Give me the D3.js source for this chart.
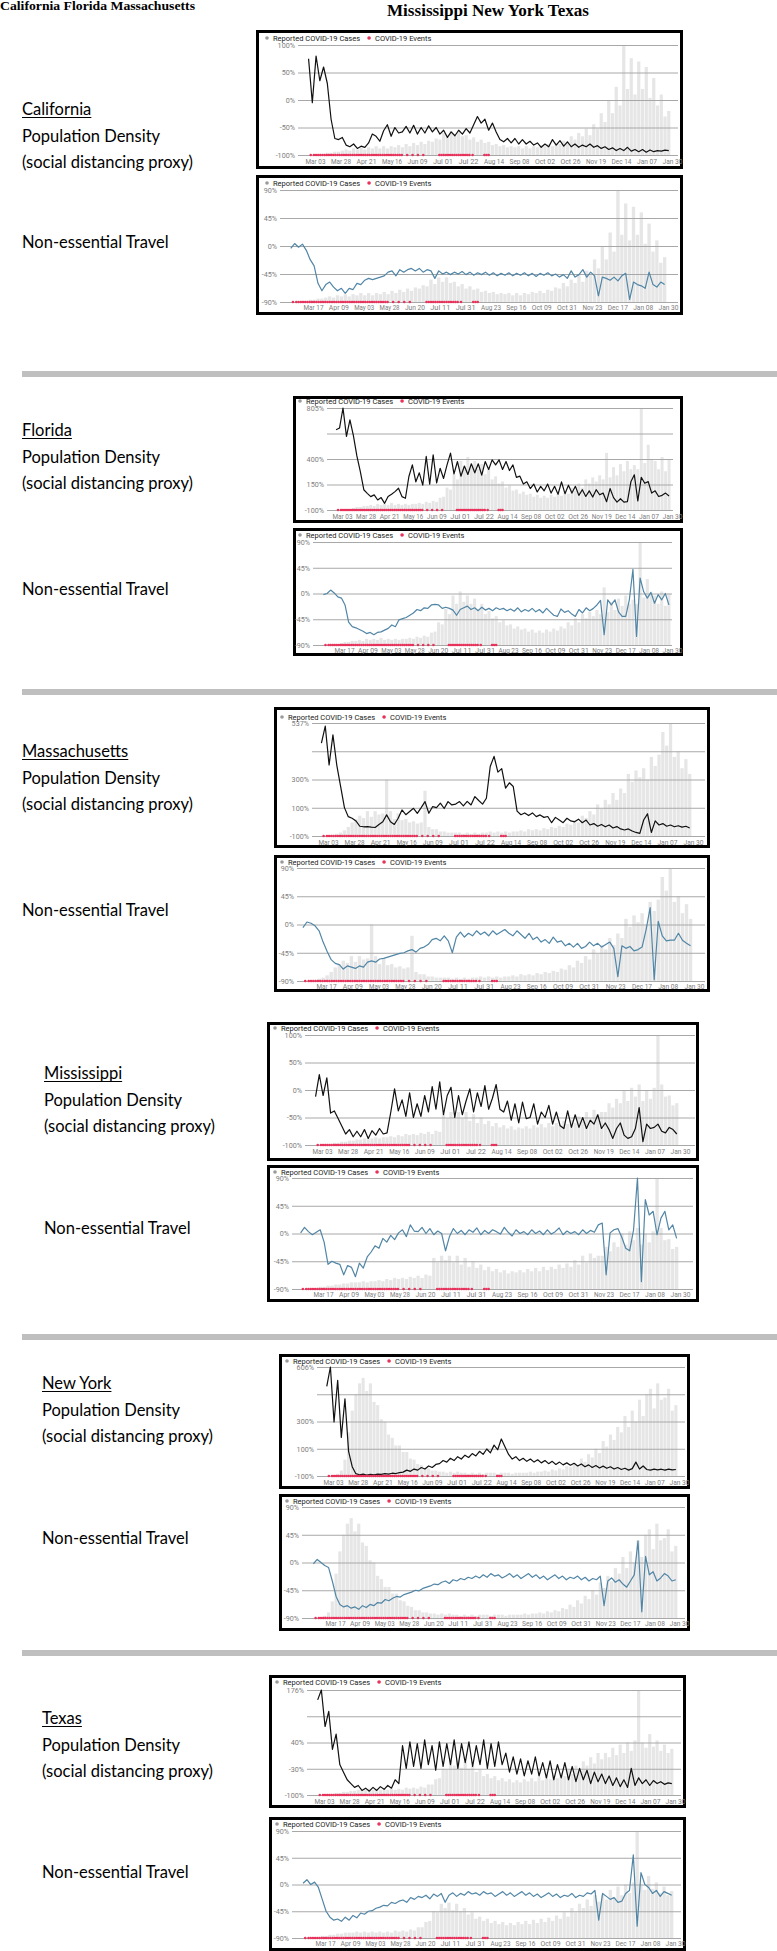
<!DOCTYPE html>
<html><head><meta charset="utf-8">
<script src="https://cdn.jsdelivr.net/npm/d3@7"></script>
<style>html,body{margin:0;padding:0;background:#fff;}svg{display:block;}</style>
</head><body>
<svg id="c" width="777" height="1951"></svg>
<script>
// ================= DATA =================
// Series are sampled every half-week (3.5 days) starting Feb 26, 2020 (day 0).
const STEP_DAYS = 3.5;
const popTickLabels = ["Mar 03","Mar 28","Apr 21","May 16","Jun 09","Jul 01","Jul 22","Aug 14","Sep 08","Oct 02","Oct 26","Nov 19","Dec 14","Jan 07","Jan 30"];
const travelTickLabels = ["Mar 17","Apr 09","May 03","May 28","Jun 20","Jul 11","Jul 31","Aug 23","Sep 16","Oct 09","Oct 31","Nov 23","Dec 17","Jan 08","Jan 30"];
const popTickDayRange = [6, 339];      // Mar 03 .. Jan 30 (days since Feb 26)
const travelTickDayRange = [20, 339];  // Mar 17 .. Jan 30
const legendLabels = ["Reported COVID-19 Cases", "COVID-19 Events"];
// COVID-19 event days (days since Feb 26)
const eventDays = [2,5,7,9,11,13,15,17,19,21,23,25,27,29,31,33,35,37,39,41,43,45,47,49,51,53,55,57,59,61,63,65,67,69,71,73,75,77,79,81,83,85,87,92,97,102,107,122,124,126,128,130,132,134,136,138,140,142,144,146,148,150,153,164,166,168];

const states = ["California","Florida","Massachusetts","Mississippi","New York","Texas"];

// ---- California ----
const caPop = [75,-5,80,35,60,30,-35,-70,-72,-68, -82,-85,-80,-88,-84,-86,-78,-62,-66,-75, -56,-45,-66,-50,-60,-58,-48,-60,-46,-62, -50,-60,-47,-58,-50,-62,-55,-68,-58,-65, -55,-62,-52,-60,-45,-30,-42,-35,-55,-42, -58,-72,-76,-70,-78,-70,-80,-72,-80,-75, -82,-78,-86,-80,-85,-72,-82,-74,-84,-76, -85,-80,-86,-82,-85,-80,-86,-83,-88,-85, -90,-87,-92,-88,-92,-86,-93,-90,-94,-90, -95,-91,-94,-92,-93,-91,-92];
const caTravel = [-4,4,-2,3,-7,-22,-32,-60,-72,-62, -58,-66,-72,-68,-76,-68,-70,-60,-62,-55, -52,-54,-52,-50,-48,-42,-40,-48,-38,-42, -38,-36,-40,-36,-42,-38,-40,-52,-40,-45, -42,-46,-42,-45,-41,-46,-42,-47,-43,-46, -42,-47,-43,-48,-44,-47,-43,-48,-44,-47, -43,-48,-44,-49,-44,-47,-43,-48,-45,-50, -46,-52,-40,-50,-46,-38,-50,-42,-48,-80, -50,-52,-55,-50,-56,-48,-44,-86,-58,-62, -64,-68,-42,-62,-66,-58,-62];
const caCases = [0,0,0,1,1,2,2,3,3,4, 5,4,6,5,7,5,7,6,8,6, 8,6,8,7,9,7,10,8,11,9, 12,10,13,12,15,14,20,16,22,18, 22,17,18,14,16,12,14,11,12,9, 10,8,9,7,8,7,8,6,8,6, 8,7,9,8,10,8,11,10,13,12, 17,14,20,17,24,18,28,24,38,30, 50,38,62,45,100,60,88,55,85,60, 80,52,70,45,55,35,40];

// ---- Florida ----
const flPop = [612,627,805,553,700,560,380,241,80,48, 19,34,-11,10,-41,20,40,63,93,19, 4,197,300,150,230,120,375,130,390,140, 270,180,300,405,220,330,200,290,215,310, 230,310,210,330,260,345,300,345,260,330, 250,300,190,200,130,150,90,130,60,110, 70,130,50,110,40,150,45,120,50,110, 30,80,20,70,15,80,35,50,-26,90, 10,-30,0,-30,-26,150,212,-20,190,137, 152,50,70,20,30,50,25];
const flTravel = [-2,0,6,1,-6,-8,-20,-50,-58,-60, -63,-66,-70,-68,-72,-68,-67,-64,-61,-55, -58,-46,-44,-42,-38,-34,-28,-30,-25,-26, -20,-19,-20,-26,-24,-26,-29,-38,-28,-25, -22,-28,-25,-30,-24,-29,-26,-30,-25,-28, -26,-30,-27,-31,-25,-32,-28,-31,-26,-32, -28,-34,-26,-32,-38,-40,-27,-33,-30,-36, -40,-28,-34,-25,-30,-26,-20,-12,-72,-11, -20,-11,-32,-40,-40,-11,42,-75,27,3, -8,2,-17,-2,-11,0,-20];
const flCases = [0,0,0,1,1,2,3,3,4,4, 5,4,6,5,6,5,7,5,6,5, 6,5,6,6,7,6,8,7,9,8, 12,13,22,20,35,30,48,40,52,42, 48,40,45,35,40,30,33,26,28,22, 24,19,20,16,18,15,16,13,15,12, 14,12,15,13,16,14,18,16,22,19, 26,22,30,26,32,28,34,30,56,32, 42,34,45,38,48,40,44,40,100,46, 64,50,48,40,52,38,50];

// ---- Massachusetts ----
const maPop = [424,520,300,470,300,180,60,9,0,-15, -45,-48,-47,-50,-52,-35,-20,19,-20,-35, 0,47,20,38,56,28,60,94,28,66, 60,85,55,94,75,80,94,70,95,75, 122,100,80,113,292,349,260,280,170,200, 179,40,20,30,15,30,9,19,5,10, -25,5,-10,-25,0,-15,-20,-5,-25,-10, -38,-30,-45,-35,-48,-38,-55,-47,-60,-66, -60,-72,-80,-85,-10,25,-80,-15,-38,-30, -45,-38,-48,-42,-50,-45,-55];
const maTravel = [-5,4,2,-2,-10,-28,-43,-56,-62,-64, -71,-66,-68,-70,-66,-68,-60,-58,-60,-55, -54,-52,-50,-48,-46,-45,-42,-40,-44,-38, -36,-32,-24,-22,-26,-18,-26,-45,-20,-12, -20,-14,-18,-10,-16,-12,-18,-10,-16,-12, -8,-14,-18,-10,-16,-22,-14,-24,-20,-28, -24,-30,-20,-28,-26,-34,-30,-36,-30,-38, -35,-28,-34,-30,-36,-32,-28,-38,-83,-34, -38,-35,-42,-40,-36,-8,27,-88,5,-18, -26,-25,-25,-14,-25,-30,-34];
const maCases = [0,0,0,1,2,3,5,8,12,15, 18,16,22,17,22,19,20,50,22,15, 20,14,15,12,13,11,12,40,8,6, 6,4,4,3,3,3,3,2,3,2, 3,2,3,3,4,3,4,3,4,3, 4,4,5,4,6,5,6,5,7,6, 8,7,9,8,11,10,14,12,18,16, 22,19,28,24,32,28,38,32,42,38, 55,48,58,52,60,50,70,62,72,92, 80,100,70,75,60,68,55];

// ---- Mississippi ----
const msPop = [-12,28,-10,22,-42,-38,-52,-66,-80,-72, -85,-75,-85,-72,-88,-74,-82,-70,-80,-78, -40,2,-38,-18,-48,-5,-50,-25,-48,-10, -40,6,-35,15,-45,-10,5,-50,-10,-45, -20,2,-40,-5,-30,8,-35,-15,10,-35, -40,-20,-55,-25,-60,-22,-52,-50,-25,-62, -40,-50,-28,-62,-40,-65,-70,-38,-68,-45, -68,-50,-70,-55,-62,-45,-70,-60,-72,-88, -70,-60,-82,-88,-85,-70,-32,-94,-62,-70, -68,-62,-75,-78,-68,-72,-80];
const msTravel = [1,10,3,-2,2,6,-14,-50,-45,-48, -50,-67,-52,-55,-70,-48,-56,-38,-30,-20, -24,-8,-14,-3,-10,1,6,-5,14,4, 3,10,0,8,-2,4,0,-28,-5,8, 0,5,-2,6,2,9,-2,5,0,6, 3,-1,10,2,-4,6,0,3,-2,6, 0,4,-2,6,-1,3,9,-2,4,0, 3,-2,6,0,5,2,14,17,-67,1, 6,8,-6,-24,-28,6,90,-78,55,30, 36,-2,25,36,6,14,-8];
const msCases = [0,0,0,1,1,2,2,3,3,4, 4,5,5,6,6,6,7,6,7,7, 8,7,9,8,10,9,10,9,11,10, 12,10,13,12,28,24,30,26,30,24, 30,22,28,20,25,19,22,17,20,16, 18,15,17,14,16,15,17,15,18,16, 19,16,20,17,20,18,22,19,23,20, 26,22,30,24,32,28,30,30,38,34, 42,38,50,40,52,44,55,40,50,42, 52,100,55,44,45,36,38];

// ---- New York ----
const nyPop = [480,606,250,520,150,400,60,-40,-85, -92,-88,-94,-90,-92,-88,-90,-85,-88,-82,-84,-78, -75,-62,-70,-55,-62,-45,-55,-35,-45,-25, -20,0,-10,15,0,25,10,35,20,45, 30,60,40,75,50,100,70,140,90,40, 10,25,0,15,-5,10,-10,5,-15,0, -20,-5,-25,-10,-28,-15,-30,-18,-35,-22, -40,-28,-45,-32,-48,-36,-50,-40,-55,-45, -58,-50,-62,-52,-10,-55,-35,-58,-62,-55,-60,-56,-62,-55,-60,-58];
const nyTravel = [-2,5,0,-5,-8,-30,-55,-68,-72,-70,-74, -72,-76,-70,-73,-68,-70,-65,-66,-60,-62, -58,-55,-56,-52,-50,-48,-45,-46,-42,-40, -38,-35,-36,-32,-30,-34,-28,-30,-26,-28, -24,-26,-22,-25,-20,-24,-18,-22,-20,-25, -22,-18,-24,-20,-26,-22,-18,-24,-20,-26, -22,-28,-24,-20,-26,-22,-28,-24,-26,-22, -28,-24,-30,-26,-28,-22,-70,-30,-25,-32, -28,-35,-40,-30,-20,35,-80,10,-20,-15,-30,-25,-18,-22,-30,-28];
const nyCases = [0,0,0,2,5,15,40,60,75,85, 90,78,85,68,65,52,50,38,35,28, 28,22,22,16,15,11,10,7,7,5, 5,4,4,3,4,3,4,3,3,2,3,2,3,2,3,3,3,2,3,3, 3,2,3,3,3,3,4,3,4,4,5,4,6,5,7,6,9,8,12,10, 16,13,20,17,25,21,32,27,38,33,45,40,55,45,60,50,70,55,75,80,62,85,70,72,80,60,65];

// ---- Texas ----
const txPop = [150,176,80,120,20,60,-20,-40,-60, -70,-80,-75,-88,-82,-90,-80,-88,-78,-85,-75,-82, -60,-70,30,-30,40,-25,35,-30,45,-20, 30,-35,40,-25,35,-20,45,-30,35,-15, 40,-25,30,-20,45,-30,35,-25,40,-20, 10,-40,0,-45,-5,-50,-10,-45,0,-50, -15,-55,-10,-60,-20,-55,-15,-60,-25,-65, -30,-60,-35,-70,-40,-65,-45,-70,-50,-75, -55,-78,-60,-80,-30,-75,-55,-70,-60,-75,-62,-70,-65,-72,-68,-70];
const txTravel = [2,8,0,4,-5,-25,-45,-55,-60,-58,-62, -55,-60,-52,-56,-48,-50,-45,-44,-40,-38, -35,-36,-30,-32,-28,-26,-30,-22,-25,-20, -22,-18,-24,-16,-20,-15,-30,-18,-14,-20, -15,-18,-12,-16,-14,-18,-12,-16,-14,-20, -16,-12,-18,-14,-20,-16,-12,-18,-14,-20, -16,-22,-18,-14,-20,-16,-22,-18,-20,-15, -22,-18,-20,-14,-16,-10,-60,-15,-20,-25, -22,-30,-28,-15,-10,50,-70,20,0,-5,-15,-10,-20,-12,-15,-18];
const txCases = [0,0,0,1,1,2,2,3,3,4, 4,5,5,5,6,5,6,5,6,5, 6,5,6,5,7,6,7,6,8,7, 10,10,15,16,25,24,32,28,33,26, 32,25,28,22,24,18,20,16,18,14, 16,13,15,12,14,12,15,13,16,13, 17,14,18,15,19,16,21,18,24,20, 28,24,32,28,36,30,40,34,40,36, 45,38,48,40,50,42,52,100,50,45, 58,46,52,42,48,40,44];

// y-axis domains and gridline labels
const ax100 = {dom:[-100,100], labels:["100%","50%","0%","-50%","-100%"]};
const ax90  = {dom:[-90,90],   labels:["90%","45%","0%","-45%","-90%"]};
const axFL  = {dom:[-100,805], labels:["805%","","400%","150%","-100%"]};
const axMA  = {dom:[-100,537], labels:["537%","","300%","100%","-100%"]};
const axNY  = {dom:[-100,606], labels:["606%","","300%","100%","-100%"]};
const axTX  = {dom:[-100,176], labels:["176%","","40%","-30%","-100%"]};

// ================= LAYOUT =================
const RED = "#e8315b", BLUE = "#5186a6", GRID = "#a8a8a8", TICK = "#7e7e7e";
const panels = [
  {kind:"pop", s:caPop, c:caCases, ax:ax100, box:[256,30,683,169],  grid:[45,155],   plot:[298,678], ticks:[315,672], lg:[11,8]},
  {kind:"tr",  s:caTravel, c:caCases, ax:ax90, box:[256,175,683,315], grid:[190,302], plot:[280,678], ticks:[313,668], lg:[11,8]},
  {kind:"pop", s:flPop, c:flCases, ax:axFL, box:[293,396,683,523], grid:[408,510], plot:[327,673], ticks:[342,672], lg:[7,5]},
  {kind:"tr",  s:flTravel, c:flCases, ax:ax90, box:[293,528,683,656], grid:[542,645], plot:[313,672], ticks:[344,672], lg:[7,7]},
  {kind:"pop", s:maPop, c:maCases, ax:axMA, box:[274,707,710,848], grid:[723,836], plot:[312,705], ticks:[328,693], lg:[8,10]},
  {kind:"tr",  s:maTravel, c:maCases, ax:ax90, box:[274,855,710,992], grid:[868,981], plot:[297,705], ticks:[326,694], lg:[8,7]},
  {kind:"pop", s:msPop, c:msCases, ax:ax100, box:[267,1022,699,1161], grid:[1035,1145], plot:[305,695], ticks:[322,680], lg:[8,6]},
  {kind:"tr",  s:msTravel, c:msCases, ax:ax90, box:[267,1165,699,1302], grid:[1178,1289], plot:[292,693], ticks:[323,680], lg:[8,7]},
  {kind:"pop", s:nyPop, c:nyCases, ax:axNY, box:[279,1354,690,1489], grid:[1367,1476], plot:[317,685], ticks:[333,679], lg:[8,7]},
  {kind:"tr",  s:nyTravel, c:nyCases, ax:ax90, box:[279,1494,690,1631], grid:[1507,1618], plot:[302,685], ticks:[335,679], lg:[8,7]},
  {kind:"pop", s:txPop, c:txCases, ax:axTX, box:[269,1675,686,1808], grid:[1690,1795], plot:[307,681], ticks:[324,675], lg:[8,7]},
  {kind:"tr",  s:txTravel, c:txCases, ax:ax90, box:[269,1817,686,1951], grid:[1831,1938], plot:[292,681], ticks:[325,675], lg:[8,7]}
];
const stateText = [
  {x:22, nameY:115, travelY:248},
  {x:22, nameY:436, travelY:595},
  {x:22, nameY:757, travelY:916},
  {x:44, nameY:1079, travelY:1234},
  {x:42, nameY:1389, travelY:1544},
  {x:42, nameY:1724, travelY:1878}
];
const separatorYs = [371, 689, 1334, 1650];

// ================= DRAW =================
const svg = d3.select("#c");
svg.append("rect").attr("width",777).attr("height",1951).attr("fill","#fff");

svg.append("text").attr("x",0).attr("y",10)
  .attr("font-family","'Liberation Serif','DejaVu Serif',serif").attr("font-weight","bold")
  .attr("font-size",12).attr("textLength",195).attr("lengthAdjust","spacingAndGlyphs")
  .text("California Florida Massachusetts");
svg.append("text").attr("x",387).attr("y",16)
  .attr("font-family","'Liberation Serif','DejaVu Serif',serif").attr("font-weight","bold")
  .attr("font-size",16.5).attr("textLength",202).attr("lengthAdjust","spacingAndGlyphs")
  .text("Mississippi New York Texas");

separatorYs.forEach(y => svg.append("rect").attr("x",22).attr("y",y).attr("width",755).attr("height",6).attr("fill","#bfbfbf"));

const LFONT = "Lato, 'Open Sans', sans-serif";
states.forEach((name, k) => {
  const t = stateText[k];
  const nm = svg.append("text").attr("x",t.x).attr("y",t.nameY).attr("font-family",LFONT).attr("font-size",16.5).attr("fill","#000").text(name);
  const w = nm.node().getComputedTextLength();
  svg.append("line").attr("x1",t.x).attr("x2",t.x+w).attr("y1",t.nameY+2.5).attr("y2",t.nameY+2.5).attr("stroke","#000").attr("stroke-width",1);
  svg.append("text").attr("x",t.x).attr("y",t.nameY+26.5).attr("font-family",LFONT).attr("font-size",16.5).text("Population Density");
  svg.append("text").attr("x",t.x).attr("y",t.nameY+52.5).attr("font-family",LFONT).attr("font-size",16.5).text("(social distancing proxy)");
  svg.append("text").attr("x",t.x).attr("y",t.travelY).attr("font-family",LFONT).attr("font-size",16.5).text("Non-essential Travel");
});

const SFONT = "Roboto, 'Noto Sans', sans-serif";
panels.forEach(p => {
  const [x0,y0,x1,y1] = p.box;
  const g = svg.append("g");
  g.append("rect").attr("x",x0+1.5).attr("y",y0+1.5).attr("width",x1-x0-3).attr("height",y1-y0-3)
    .attr("fill","#fff").attr("stroke","#000").attr("stroke-width",3);
  const isPop = p.kind === "pop";
  const x = d3.scaleLinear().domain(isPop ? popTickDayRange : travelTickDayRange).range(p.ticks);
  const xt = d3.scalePoint().domain(isPop ? popTickLabels : travelTickLabels).range(p.ticks);
  const y = d3.scaleLinear().domain(p.ax.dom).range([p.grid[1], p.grid[0]]);
  const yc = d3.scaleLinear().domain([0,100]).range([p.grid[1], p.grid[0]]);
  const bw = (x(STEP_DAYS) - x(0)) * 0.85;

  // case bars
  g.append("g").selectAll("rect").data(p.c).enter().append("rect")
    .attr("x",(d,i)=>x(i*STEP_DAYS)-bw/2).attr("y",d=>yc(d))
    .attr("width",bw).attr("height",d=>yc(0)-yc(d)).attr("fill","#e6e6e6");

  // y axis with gridlines
  const n = p.ax.labels.length;
  const gridVals = p.ax.labels.map((_,k)=> p.ax.dom[1] - k*(p.ax.dom[1]-p.ax.dom[0])/(n-1));
  const yAxis = d3.axisLeft(y).tickValues(gridVals).tickFormat((d,k)=>p.ax.labels[k])
    .tickSizeInner(-(p.plot[1]-p.plot[0])).tickSizeOuter(0).tickPadding(3);
  const ya = g.append("g").attr("transform",`translate(${p.plot[0]},0)`).call(yAxis);
  ya.select(".domain").remove();
  ya.selectAll("line").attr("stroke",GRID).attr("stroke-width",1);
  ya.selectAll("text").attr("fill",TICK).attr("font-family",SFONT).attr("font-size",7.2);

  // x axis labels
  const xAxis = d3.axisBottom(xt).tickSize(0).tickPadding(isPop ? 3.5 : 2.2);
  const xa = g.append("g").attr("transform",`translate(0,${p.grid[1]})`).call(xAxis);
  xa.select(".domain").remove();
  xa.selectAll("text").attr("fill",TICK).attr("font-family",SFONT).attr("font-size",7.8)
    .attr("textLength",20).attr("lengthAdjust","spacingAndGlyphs");

  // series line
  const line = d3.line().x((d,i)=>x(i*STEP_DAYS)).y(d=>y(d));
  g.append("path").datum(p.s).attr("d",line).attr("fill","none")
    .attr("stroke", isPop ? "#111" : BLUE).attr("stroke-width",1.2).attr("stroke-linejoin","round");

  // events
  g.append("g").selectAll("circle").data(eventDays).enter().append("circle")
    .attr("cx",d=>x(d)).attr("cy",p.grid[1]).attr("r",1.3).attr("fill",RED);

  // legend
  const lx = x0 + p.lg[0], ly = y0 + p.lg[1];
  g.append("circle").attr("cx",lx).attr("cy",ly).attr("r",1.8).attr("fill","#9a9a9a");
  const t1 = g.append("text").attr("x",lx+6).attr("y",ly+2.6).attr("font-family",SFONT).attr("font-size",7.5).attr("fill","#222").text(legendLabels[0]);
  const rx = lx + 6 + t1.node().getComputedTextLength() + 9;
  g.append("circle").attr("cx",rx).attr("cy",ly).attr("r",1.8).attr("fill",RED);
  g.append("text").attr("x",rx+6).attr("y",ly+2.6).attr("font-family",SFONT).attr("font-size",7.5).attr("fill","#222").text(legendLabels[1]);
});
</script>
</body></html>
